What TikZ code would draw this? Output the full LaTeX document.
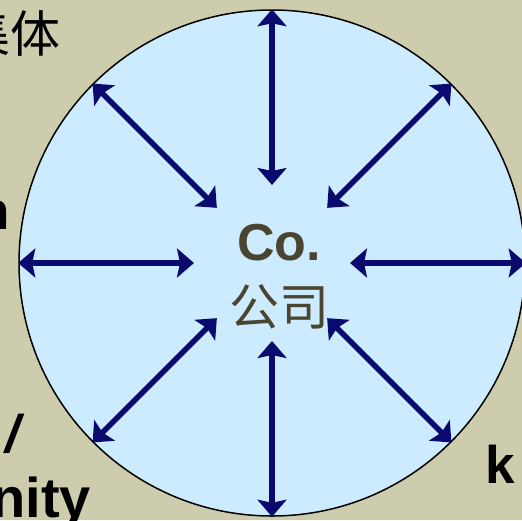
\documentclass[tikz,border=0pt]{standalone}
\usepackage{fontspec}
\setmainfont{Liberation Sans}
\newfontfamily\cjk{Noto Sans CJK SC}
\usepackage{tikz}
\usetikzlibrary{arrows.meta,calc}
\definecolor{paper}{HTML}{CDCDAD}
\definecolor{sky}{HTML}{CCEBFF}
\definecolor{navy}{HTML}{0A0A6E}
\definecolor{olive}{HTML}{4A4530}

\begin{document}
\begin{tikzpicture}[x=1pt,y=-1pt,
  edge/.style={{Stealth[length=17pt,width=29pt,inset=3pt]}-{Stealth[length=17pt,width=29pt,inset=3pt]},navy,line width=5.5pt},
  side/.style={inner sep=0pt,font=\fontsize{53}{60}\selectfont\bfseries},
  core/.style={inner sep=0pt,text=olive}
]
  \fill[paper] (0,0) rectangle (522,520);
  \useasboundingbox (0,0) rectangle (522,520);
  \node[circle,draw=black,line width=1.5pt,fill=sky,minimum size=506pt,inner sep=0pt] (disc) at (272,263) {};
  % eight spokes, each from near the middle out to the rim
  \foreach \a in {0,45,...,315}{
    \coordinate (in\a) at ($(disc.center)!78pt!(disc.\a)$);
    \draw[edge] (in\a) -- (disc.\a);
  }
  \node[core,font=\fontsize{52}{60}\selectfont\bfseries] (co) at (279,243) {Co.};
  \node[core,font=\fontsize{50}{60}\selectfont\cjk] (gs) at (279,307) {公司};
  % words cut off at the edges
  \node[side,anchor=base east,font=\fontsize{50}{60}\selectfont\cjk] (ti) at (61,52) {集体};
  \node[side,anchor=base east] (wn) at (10,229) {n};
  \node[side,anchor=base east,font=\fontsize{53}{60}\selectfont\bfseries\itshape] (sl) at (20,452) {/};
  \node[side,anchor=base east,font=\fontsize{56}{60}\selectfont\bfseries] (wc) at (91,517) {nity};
  \node[side,anchor=base west] (wk) at (485,483) {k};
\end{tikzpicture}
\end{document}
